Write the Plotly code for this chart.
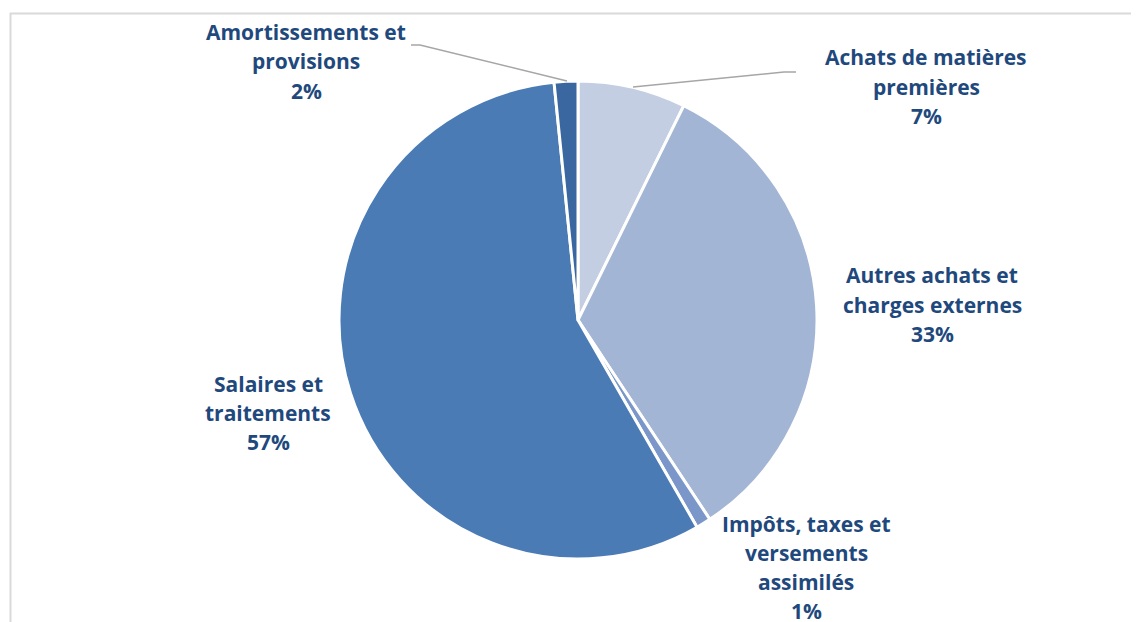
import plotly.graph_objects as go

categories = [
    "Achats de matières<br>premières",
    "Autres achats et<br>charges externes",
    "Impôts, taxes et<br>versements<br>assimilés",
    "Salaires et<br>traitements",
    "Amortissements et<br>provisions",
]
values = [7.3, 33.4, 1.0, 56.7, 1.6]
colors = ["#C3CEE2", "#A3B5D5", "#7B97C9", "#4A7BB5", "#3B67A0"]

W, H = 1139, 622
OFF = 8  # page body margin offset
total = sum(values)
pcts = [f"{round(v / total * 100)}%" for v in values]


def fx(x):
    return (x - OFF) / W


def fy(y):
    return 1 - (y - OFF) / H


# pie geometry (page pixels)
cx, cy, r = 578, 320, 239

fig = go.Figure(go.Pie(
    labels=[c.replace("<br>", " ") for c in categories],
    values=values,
    sort=False,
    direction="clockwise",
    rotation=0,
    textinfo="none",
    hoverinfo="label+percent",
    marker=dict(colors=colors, line=dict(color="white", width=3)),
    domain=dict(x=[fx(cx - r), fx(cx + r)], y=[fy(cy + r), fy(cy - r)]),
    showlegend=False,
))

# label placement: (center x px, first line y px, line spacing px)
label_pos = [
    (926, 57, 29.5),
    (932, 275, 29.5),
    (806, 524, 29),
    (268, 384, 29),
    (306, 32, 29.5),
]

text_color = "#1F497D"
annotations = []
for cat, pct, (x, y0, dy) in zip(categories, pcts, label_pos):
    lines = cat.split("<br>") + [pct]
    for i, line in enumerate(lines):
        annotations.append(dict(
            x=fx(x), y=fy(y0 + i * dy), xref="paper", yref="paper",
            text=f"<b>{line}</b>", showarrow=False, xanchor="center", yanchor="middle",
            font=dict(family="Open Sans", size=21, color=text_color),
        ))


def px_line(pts, color="#A6A6A6", width=1.5):
    path = "M " + " L ".join(f"{fx(x)},{fy(y)}" for x, y in pts)
    return dict(type="path", path=path, xref="paper", yref="paper",
                line=dict(color=color, width=width))


shapes = [
    # chart frame
    dict(type="line", xref="paper", yref="paper", x0=fx(10.5), x1=fx(10.5), y0=0, y1=fy(13),
         line=dict(color="#D9D9D9", width=2)),
    dict(type="line", xref="paper", yref="paper", x0=fx(10), x1=1, y0=fy(13.5), y1=fy(13.5),
         line=dict(color="#D9D9D9", width=2)),
    # leader lines
    px_line([(567, 81), (420, 45), (411, 45)]),
    px_line([(633, 87), (784, 72), (796, 72)]),
]

fig.update_layout(
    width=W, height=H,
    margin=dict(l=0, r=0, t=0, b=0),
    paper_bgcolor="white", plot_bgcolor="white",
    annotations=annotations, shapes=shapes,
)

fig.write_html("out.html")
